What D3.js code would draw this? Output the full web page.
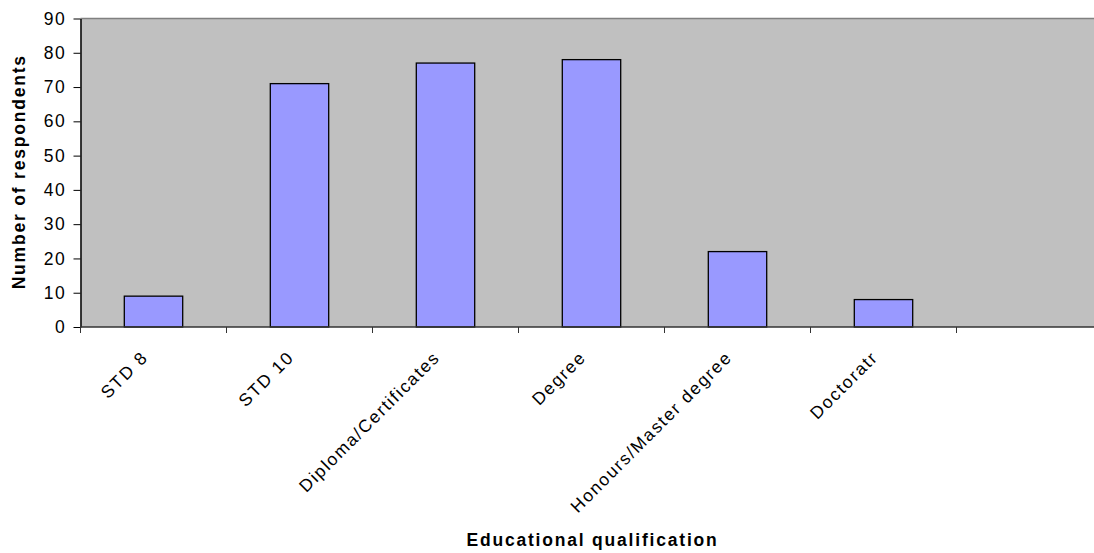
<!DOCTYPE html>
<html>
<head>
<meta charset="utf-8">
<script src="https://cdn.jsdelivr.net/npm/d3@7"></script>
<style>
  html, body { margin: 0; padding: 0; background: #fff; }
  svg { display: block; font-family: "Liberation Sans", Arial, sans-serif; }
</style>
</head>
<body>
<svg id="chart" width="1094" height="553"></svg>
<script>
// Respondents by highest educational qualification
const categories = ["STD 8", "STD 10", "Diploma/Certificates", "Degree", "Honours/Master degree", "Doctoratr"];
const respondents = [9, 71, 77, 78, 22, 8];
const yTicks = [0, 10, 20, 30, 40, 50, 60, 70, 80, 90];
const xTitle = "Educational qualification";
const yTitle = "Number of respondents";

const svg = d3.select("#chart");
const W = 1094, H = 553;
const plot = { left: 80.5, top: 18.5, bottom: 327, slots: 7, step: 146 };
const plotRight = plot.left + plot.slots * plot.step;
const fontSize = 17.5;
const tickSpacing = "1.7px";
const titleSpacing = "1.8px";

// one trailing empty slot after the last category
const slotDomain = categories.concat([""]);
const x = d3.scaleBand().domain(slotDomain).range([plot.left, plotRight]).padding(0);
const y = d3.scaleLinear().domain([0, 90]).range([plot.bottom, plot.top]);

// plot area
svg.append("rect")
  .attr("x", plot.left).attr("y", plot.top)
  .attr("width", plotRight - plot.left).attr("height", plot.bottom - plot.top)
  .attr("fill", "#c0c0c0");
svg.append("line")
  .attr("x1", plot.left).attr("x2", plotRight)
  .attr("y1", plot.top).attr("y2", plot.top)
  .attr("stroke", "#808080").attr("stroke-width", 1.5);

// bars
const barW = x.bandwidth() * 0.4;
svg.append("g").selectAll("rect")
  .data(categories.map((c, i) => ({ c, v: respondents[i] })))
  .join("rect")
  .attr("x", d => x(d.c) + (x.bandwidth() - barW) / 2)
  .attr("y", d => y(d.v))
  .attr("width", barW)
  .attr("height", d => y(0) - y(d.v))
  .attr("fill", "#9999ff")
  .attr("stroke", "#000")
  .attr("stroke-width", 1.3);

// y axis
const yAxis = svg.append("g")
  .attr("transform", `translate(${plot.left},0)`)
  .call(d3.axisLeft(y).tickValues(yTicks).tickSize(7).tickPadding(7).tickSizeOuter(0));
yAxis.select(".domain").attr("stroke", "#000").attr("stroke-width", 1.5);
yAxis.selectAll(".tick line").attr("stroke", "#000");
yAxis.selectAll(".tick text")
  .attr("font-size", fontSize).attr("fill", "#000")
  .attr("letter-spacing", tickSpacing)
  .attr("font-family", "Liberation Sans, Arial, sans-serif");

// x axis: ticks on slot boundaries
const boundaries = slotDomain.map(d => x(d));
const xAxisG = svg.append("g");
xAxisG.append("line")
  .attr("x1", plot.left).attr("x2", plotRight)
  .attr("y1", plot.bottom).attr("y2", plot.bottom)
  .attr("stroke", "#333").attr("stroke-width", 1.5);
xAxisG.selectAll("line.tk")
  .data(boundaries)
  .join("line")
  .attr("class", "tk")
  .attr("x1", d => d).attr("x2", d => d)
  .attr("y1", plot.bottom).attr("y2", plot.bottom + 6)
  .attr("stroke", "#333").attr("stroke-width", 1);

// rotated category labels
xAxisG.selectAll("text")
  .data(categories)
  .join("text")
  .attr("transform", d => `translate(${x(d) + x.bandwidth() / 2 - 4.5},${plot.bottom + 31.5}) rotate(-45)`)
  .attr("text-anchor", "end")
  .attr("font-size", fontSize)
  .attr("letter-spacing", tickSpacing)
  .attr("fill", "#000")
  .text(d => d);

// axis titles, centred on the plot area
svg.append("text")
  .attr("x", (plot.left + plotRight) / 2 + 1).attr("y", 546)
  .attr("text-anchor", "middle")
  .attr("font-size", fontSize).attr("font-weight", "bold")
  .attr("letter-spacing", titleSpacing)
  .text(xTitle);
svg.append("text")
  .attr("transform", `translate(25,${(plot.top + plot.bottom) / 2 - 1}) rotate(-90)`)
  .attr("text-anchor", "middle")
  .attr("font-size", fontSize).attr("font-weight", "bold")
  .attr("letter-spacing", titleSpacing)
  .text(yTitle);
</script>
</body>
</html>
